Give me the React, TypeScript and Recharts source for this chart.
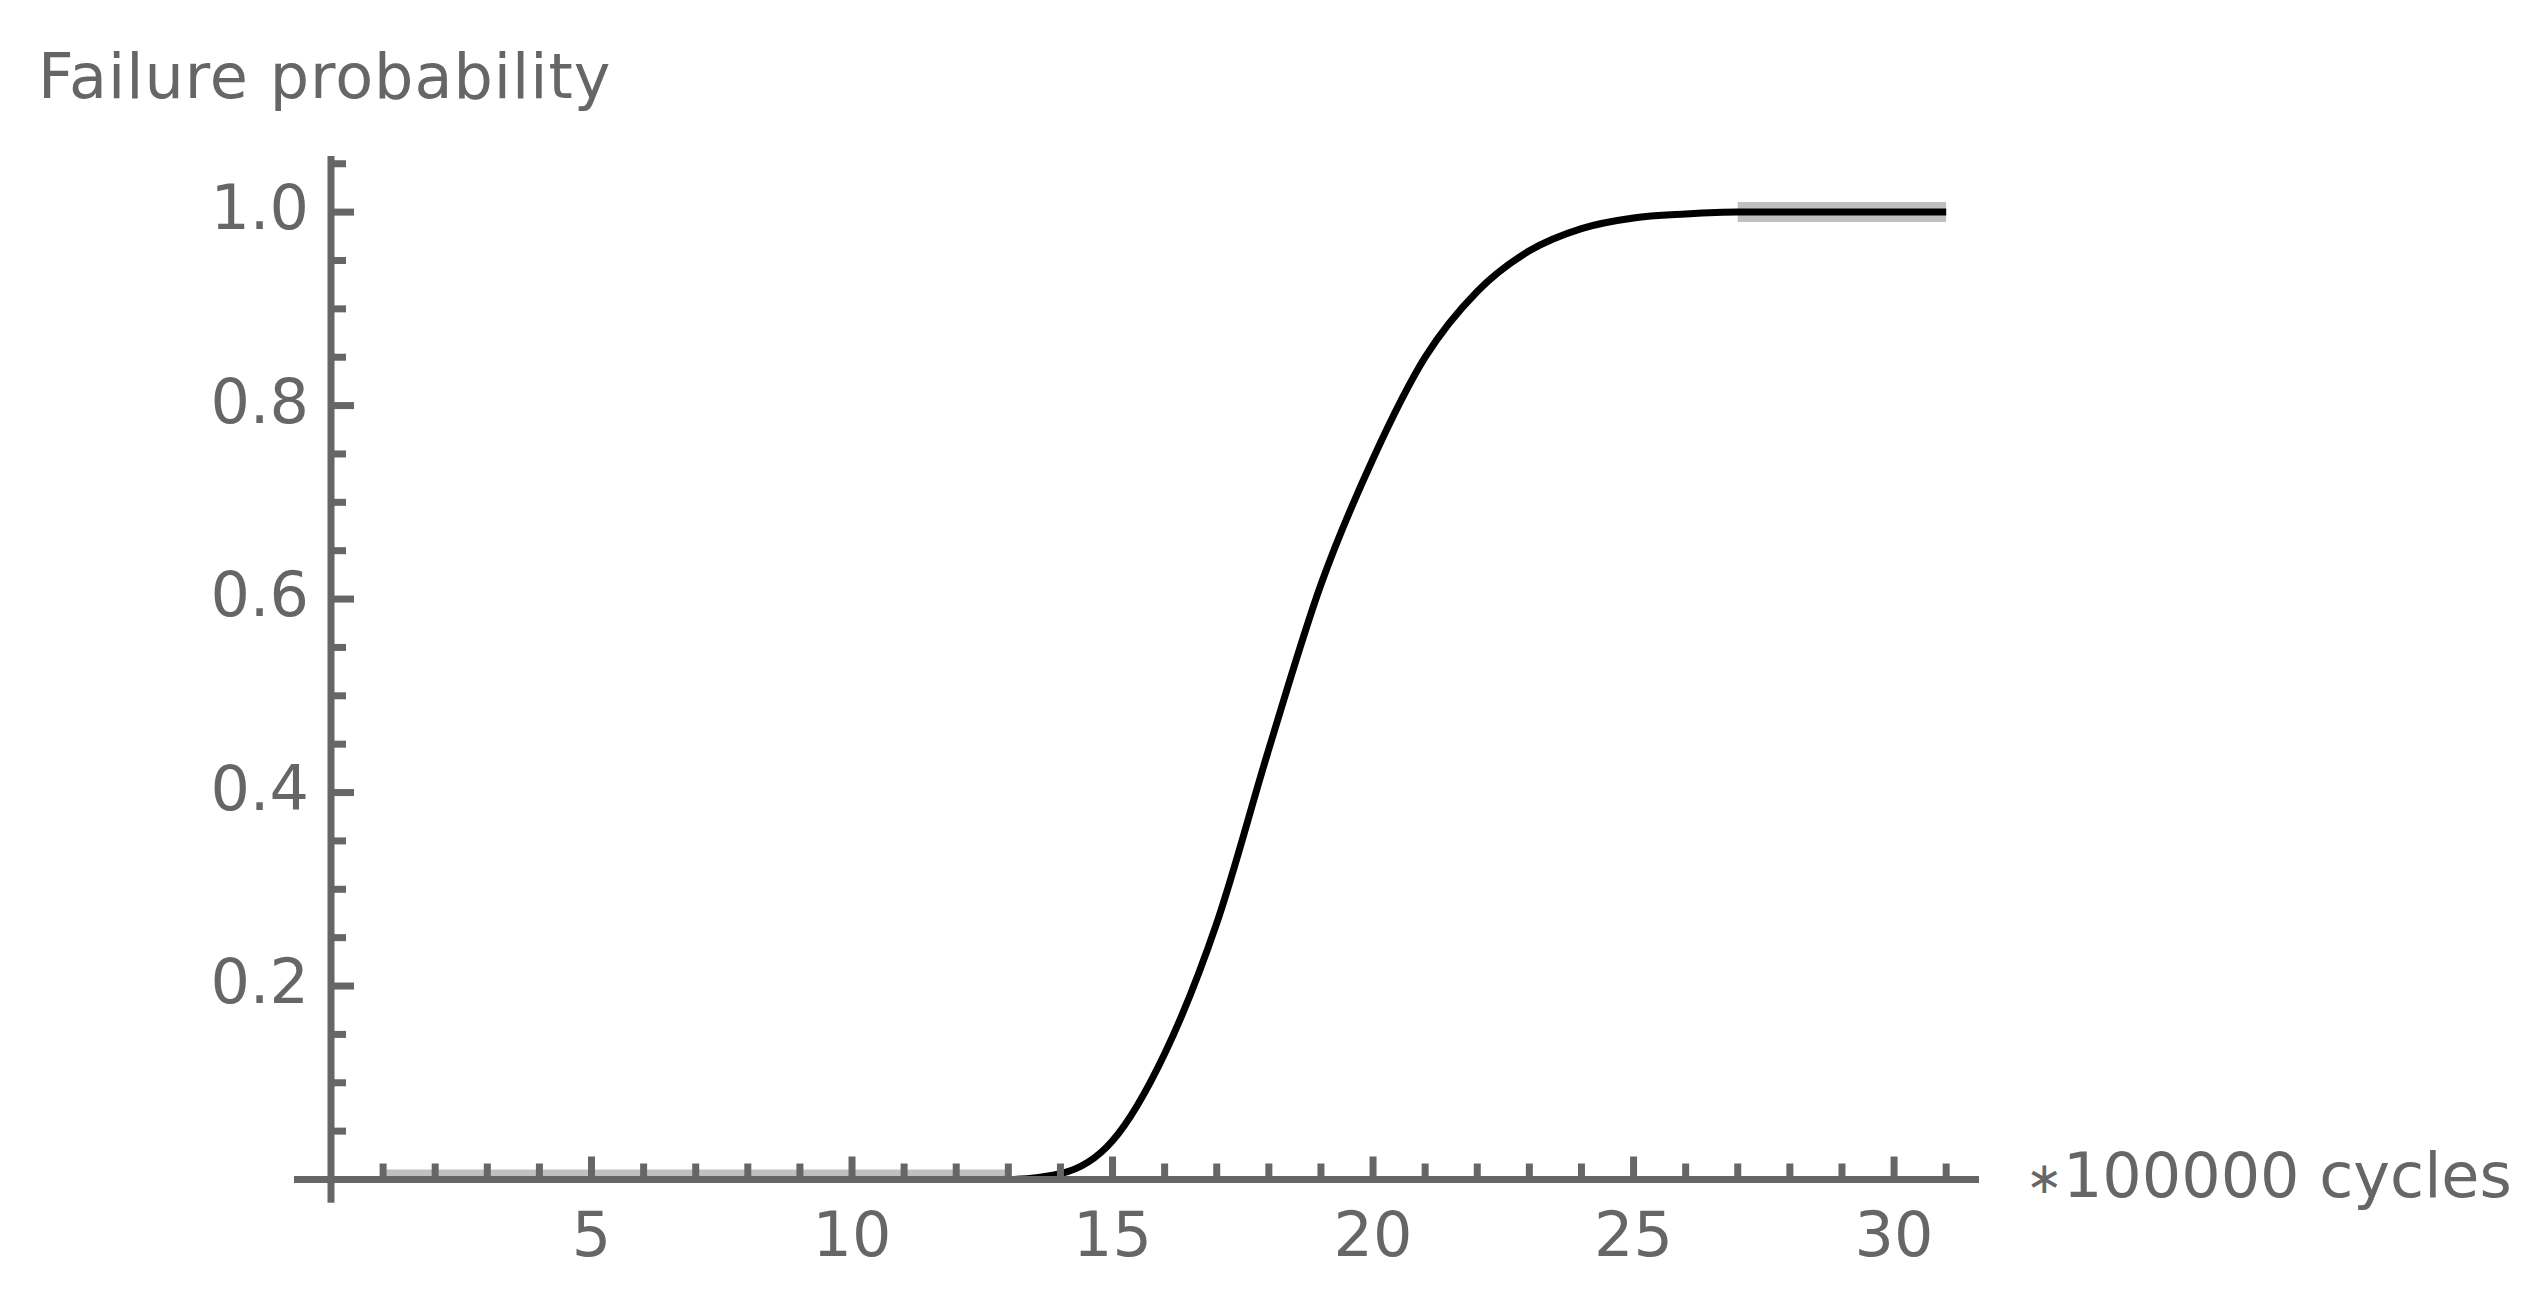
import { LineChart, Line, XAxis, YAxis, ReferenceLine } from "recharts";

// cycles, in units of 100000
const cycles = [
  1, 2, 3, 4, 5, 6, 7, 8, 9, 10, 11, 12, 13, 14, 15, 16, 17, 18, 19, 20, 21, 22,
  23, 24, 25, 26, 27, 28, 29, 30, 31,
];
const failureProbability = [
  0, 0, 0, 0, 0, 0, 0, 0, 0, 0, 0, 0, 0, 0.006, 0.04, 0.13, 0.265, 0.445, 0.615,
  0.745, 0.85, 0.918, 0.96, 0.983, 0.994, 0.998, 1, 1, 1, 1, 1,
];

const xTicks = [
  1, 2, 3, 4, 5, 6, 7, 8, 9, 10, 11, 12, 13, 14, 15, 16, 17, 18, 19, 20, 21, 22,
  23, 24, 25, 26, 27, 28, 29, 30, 31,
];
const yTicks = [
  0.05, 0.1, 0.15, 0.2, 0.25, 0.3, 0.35, 0.4, 0.45, 0.5, 0.55, 0.6, 0.65, 0.7,
  0.75, 0.8, 0.85, 0.9, 0.95, 1.0, 1.05,
];

const xDomain: [number, number] = [0, 31.63];
const yDomain: [number, number] = [0, 1.058];
// the axes run a little past the origin, Mathematica style
const xAxisStart = -0.71;
const yAxisStart = -0.024;

const AXIS = "#666666";
const TEXT = "#666666";
const FONT = "DejaVu Sans";

const data = cycles.map((c, i) => {
  const p = failureProbability[i];
  return { cycles: c, prob: p, flat: p === 0 || p === 1 ? p : null };
});

function XTick({ x, y, payload }: any) {
  const v = payload.value;
  const major = v % 5 === 0;
  return (
    <g>
      <line x1={x} x2={x} y1={y} y2={y - (major ? 23 : 16)} stroke={AXIS} strokeWidth={7} />
      {major && (
        <text x={x} y={y + 76} textAnchor="middle" fill={TEXT} fontSize={62} fontFamily={FONT}>
          {v}
        </text>
      )}
    </g>
  );
}

function YTick({ x, y, payload }: any) {
  const v = payload.value;
  const major = Math.abs(v * 5 - Math.round(v * 5)) < 1e-6;
  return (
    <g>
      <line x1={x} x2={x + (major ? 23 : 15)} y1={y} y2={y} stroke={AXIS} strokeWidth={7} />
      {major && (
        <text x={x - 22} y={y + 17} textAnchor="end" fill={TEXT} fontSize={62} fontFamily={FONT}>
          {v.toFixed(1)}
        </text>
      )}
    </g>
  );
}

export default function App() {
  return (
    <div
      style={{
        position: "absolute",
        left: 0,
        top: 0,
        width: 2544,
        height: 1304,
        background: "#fff",
      }}
    >
      <LineChart
        width={2544}
        height={1304}
        data={data}
        margin={{ top: 156, right: 565, bottom: 24.5, left: 231 }}
      >
        <Line
          dataKey="flat"
          type="linear"
          stroke="#c0c0c0"
          strokeWidth={20}
          dot={false}
          activeDot={false}
          isAnimationActive={false}
        />
        <Line
          dataKey="prob"
          type="monotone"
          stroke="#000"
          strokeWidth={7}
          dot={false}
          activeDot={false}
          isAnimationActive={false}
        />
        <XAxis
          type="number"
          dataKey="cycles"
          domain={xDomain}
          allowDataOverflow
          ticks={xTicks}
          interval={0}
          tickSize={0}
          tickMargin={0}
          tickLine={false}
          axisLine={{ stroke: AXIS, strokeWidth: 7 }}
          tick={XTick}
          height={100}
        />
        <YAxis
          type="number"
          domain={yDomain}
          allowDataOverflow
          ticks={yTicks}
          interval={0}
          tickSize={0}
          tickMargin={0}
          tickLine={false}
          axisLine={{ stroke: AXIS, strokeWidth: 7 }}
          tick={YTick}
          width={100}
        />
        <ReferenceLine
          segment={[
            { x: xAxisStart, y: 0 },
            { x: 0, y: 0 },
          ]}
          stroke={AXIS}
          strokeWidth={7}
          ifOverflow="visible"
        />
        <ReferenceLine
          segment={[
            { x: 0, y: yAxisStart },
            { x: 0, y: 0 },
          ]}
          stroke={AXIS}
          strokeWidth={7}
          ifOverflow="visible"
        />
      </LineChart>
      <div
        style={{
          position: "absolute",
          left: 38,
          top: 45.6,
          fontFamily: FONT,
          fontSize: 62,
          lineHeight: "62px",
          letterSpacing: 1,
          color: TEXT,
          whiteSpace: "nowrap",
        }}
      >
        Failure probability
      </div>
      <div
        style={{
          position: "absolute",
          left: 2026,
          top: 1144.6,
          fontFamily: FONT,
          fontSize: 62,
          lineHeight: "62px",
          color: TEXT,
          whiteSpace: "nowrap",
        }}
      >
        <span style={{ fontSize: 44, position: "relative", top: -4 }}>∗</span>100000 cycles
      </div>
    </div>
  );
}
